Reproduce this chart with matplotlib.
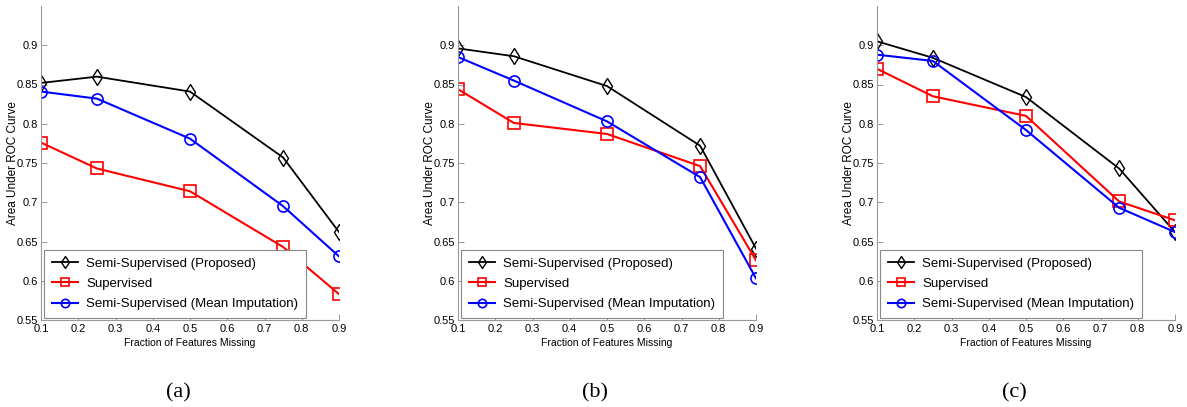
import matplotlib
matplotlib.use('Agg')
import matplotlib.pyplot as plt

plt.rcParams['font.family'] = ['Liberation Sans', 'DejaVu Sans']

x = [0.1, 0.25, 0.5, 0.75, 0.9]

proposed_a = [0.852, 0.860, 0.841, 0.757, 0.662]
supervised_a = [0.776, 0.743, 0.714, 0.643, 0.583]
mean_imp_a = [0.841, 0.832, 0.781, 0.695, 0.631]

proposed_b = [0.896, 0.886, 0.848, 0.772, 0.641]
supervised_b = [0.844, 0.801, 0.787, 0.746, 0.626]
mean_imp_b = [0.885, 0.855, 0.803, 0.732, 0.603]

proposed_c = [0.905, 0.884, 0.834, 0.743, 0.662]
supervised_c = [0.870, 0.835, 0.810, 0.701, 0.677]
mean_imp_c = [0.888, 0.880, 0.792, 0.693, 0.662]

labels = ['Semi-Supervised (Proposed)', 'Supervised', 'Semi-Supervised (Mean Imputation)']
captions = ['(a)', '(b)', '(c)']
xticks = [0.1, 0.2, 0.3, 0.4, 0.5, 0.6, 0.7, 0.8, 0.9]
yticks = [0.55, 0.6, 0.65, 0.7, 0.75, 0.8, 0.85, 0.9]

panels = [(proposed_a, supervised_a, mean_imp_a),
          (proposed_b, supervised_b, mean_imp_b),
          (proposed_c, supervised_c, mean_imp_c)]
lefts = [41, 458, 877]  # pixel position of each axes

W, H = 1187, 407
fig = plt.figure(figsize=(W / 100, H / 100), dpi=100)

for i, (p, s, m) in enumerate(panels):
    ax = fig.add_axes([lefts[i] / W, 87 / H, 298 / W, 314 / H])
    ax.plot(x, p, color='k', marker='d', ms=8, mfc='none', mew=1.0, lw=1.3, label=labels[0])
    ax.plot(x, s, color='#ff0000', marker='s', ms=8, mfc='none', mew=1.2, lw=1.5, label=labels[1])
    ax.plot(x, m, color='#0000ff', marker='o', ms=8, mfc='none', mew=1.2, lw=1.5, label=labels[2])
    ax.set_xlim(0.1, 0.9)
    ax.set_ylim(0.55, 0.95)
    ax.set_xticks(xticks)
    ax.set_xticklabels([f'{t:g}' for t in xticks])
    ax.set_yticks(yticks)
    ax.set_yticklabels([f'{t:g}' for t in yticks])
    ax.tick_params(direction='in', length=4, width=0.6, color='#888888', labelsize=8, pad=2)
    ax.tick_params(axis='x', pad=3)
    for side in ['top', 'right']:
        ax.spines[side].set_visible(False)
    for side in ['left', 'bottom']:
        ax.spines[side].set_color('#999999')
        ax.spines[side].set_linewidth(0.8)
    ax.set_xlabel('Fraction of Features Missing', fontsize=7.5)
    ax.set_ylabel('Area Under ROC Curve', fontsize=8.5)
    ax.xaxis.set_label_coords(0.5, -0.058)
    ax.yaxis.set_label_coords(-0.075, 0.5)
    leg = ax.legend(loc='lower left', bbox_to_anchor=(0.01, 0.006), borderaxespad=0,
                    fontsize=9.5, handlelength=2.0, fancybox=False, framealpha=1,
                    edgecolor='#888888', labelspacing=0.6, borderpad=0.6, handletextpad=0.6)
    leg.get_frame().set_linewidth(0.8)
    for h in leg.legend_handles:
        h.set_markersize(6)
    fig.text((lefts[i] + 137) / W, 1 - 393 / H, captions[i], ha='center', va='center',
             fontsize=16, family=['Liberation Serif', 'DejaVu Serif'])

fig.savefig('out.png', dpi=100)
